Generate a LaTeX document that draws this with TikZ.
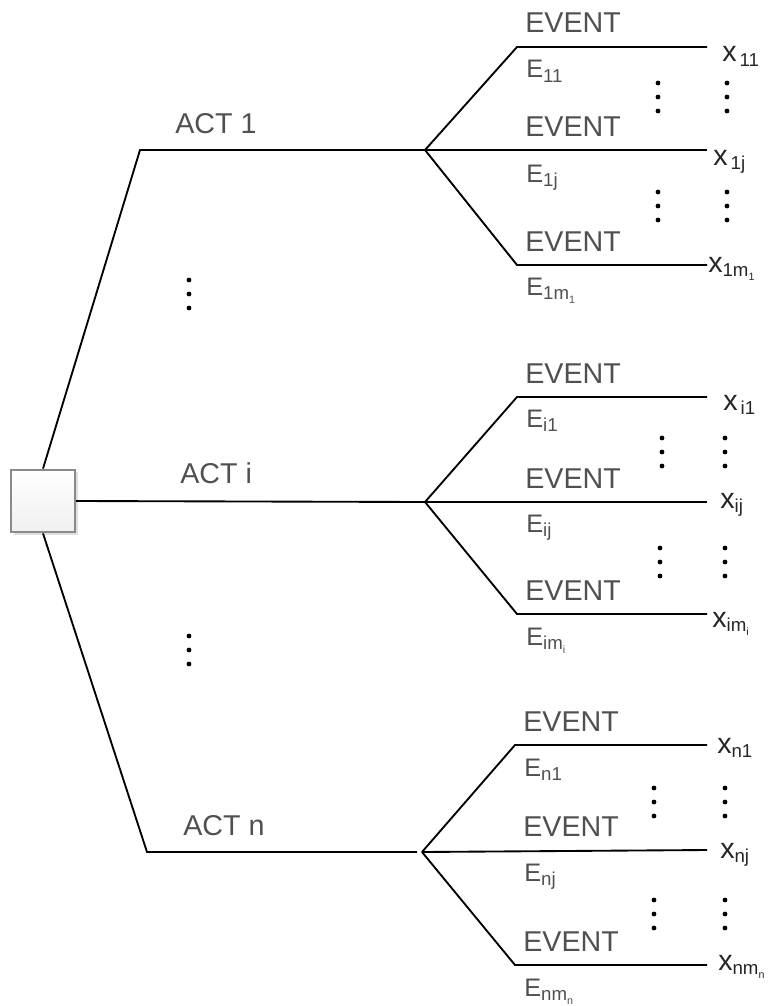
\documentclass[tikz,border=0pt]{standalone}
\usepackage{fontspec}
\setmainfont{Liberation Sans}
\usetikzlibrary{shadows}
\definecolor{labelgray}{HTML}{505050}
\definecolor{boxedge}{HTML}{8A8A8A}
% lowered indices for the outcome and event names
\newcommand{\lowsub}[1]{\raisebox{-3.5pt}{\fontsize{14}{14}\selectfont #1}}
\newcommand{\tinysub}[1]{\raisebox{-2.5pt}{\fontsize{8}{8}\selectfont #1}}

\begin{document}
\begin{tikzpicture}[x=0.75pt,y=-0.75pt,
	branch/.style={black,line width=1.4pt},
	actlabel/.style={anchor=base west,text=labelgray,font=\fontsize{21.5}{25}\selectfont},
	eventlabel/.style={anchor=base west,text=labelgray,font=\fontsize{21.5}{25}\selectfont},
	elabel/.style={anchor=base west,text=labelgray,font=\fontsize{19}{22}\selectfont},
	xlabel/.style={anchor=base west,text=black!85,font=\fontsize{21.5}{25}\selectfont}]
					\tikzstyle{every node}+=[inner sep=0pt]
					\useasboundingbox (0,0) rectangle (769,1006);
					% decision box
					\node [draw=boxedge,line width=1.5pt,minimum width=48pt,minimum height=47pt,
						top color=white,bottom color=gray!12,
						drop shadow={shadow xshift=2pt,shadow yshift=-2pt,opacity=0.25}] (root) at (43,501) {};
					% acts
					\coordinate (c1) at (140,150);
					\coordinate (f1) at (425,150);
					\coordinate (fi) at (425,502);
					\coordinate (cn) at (147,852);
					\coordinate (en) at (417,852);
					\coordinate (fn) at (422,852);
					\draw [branch] (root.north) -- (c1) -- (f1);
					\draw [branch] (root.east) -- (fi);
					\draw [branch] (root.south) -- (cn) -- (en);
					\node [actlabel] (act1) at (175,133) {ACT 1};
					\node [actlabel] (acti) at (180,483) {ACT i};
					\node [actlabel] (actn) at (183,835) {ACT n};
					% events of act 1
					\coordinate (u1) at (517,47);
					\coordinate (t1) at (707,47);
					\coordinate (m1) at (707,150);
					\coordinate (l1) at (517,265);
					\coordinate (b1) at (707,265);
					\draw [branch] (f1) -- (u1) -- (t1);
					\draw [branch] (f1) -- (m1);
					\draw [branch] (f1) -- (l1) -- (b1);
					\node [eventlabel] (ev11) at (525,33) {EVENT};
					\node [eventlabel] (ev1j) at (525,136) {EVENT};
					\node [eventlabel] (ev1m) at (525,251) {EVENT};
					\node [elabel] (e11) at (526,78) {E\lowsub{11}};
					\node [elabel] (e1j) at (526,182) {E\lowsub{1j}};
					\node [elabel] (e1m) at (526,295) {E\lowsub{1m\tinysub{1}}};
					\node [xlabel] (x11) at (722,62) {x\lowsub{\,11}};
					\node [xlabel] (x1j) at (713,165) {x\lowsub{\,1j}};
					\node [xlabel] (x1m) at (708,272) {x\lowsub{1m\tinysub{1}}};
					% events of act i
					\coordinate (ui) at (517,397);
					\coordinate (ti) at (707,397);
					\coordinate (mi) at (707,502);
					\coordinate (li) at (517,614);
					\coordinate (bi) at (707,614);
					\draw [branch] (fi) -- (ui) -- (ti);
					\draw [branch] (fi) -- (mi);
					\draw [branch] (fi) -- (li) -- (bi);
					\node [eventlabel] (evi1) at (525,383) {EVENT};
					\node [eventlabel] (evij) at (525,488) {EVENT};
					\node [eventlabel] (evim) at (525,600) {EVENT};
					\node [elabel] (ei1) at (526,427) {E\lowsub{i1}};
					\node [elabel] (eij) at (526,532) {E\lowsub{ij}};
					\node [elabel] (eim) at (526,645) {E\lowsub{im\tinysub{i}}};
					\node [xlabel] (xi1) at (723,410) {x\lowsub{\,i1}};
					\node [xlabel] (xij) at (720,508) {x\lowsub{ij}};
					\node [xlabel] (xim) at (712,627) {x\lowsub{im\tinysub{i}}};
					% events of act n
					\coordinate (un) at (515,745);
					\coordinate (tn) at (707,745);
					\coordinate (mn) at (707,850);
					\coordinate (ln) at (515,965);
					\coordinate (bn) at (707,965);
					\draw [branch] (fn) -- (un) -- (tn);
					\draw [branch] (fn) -- (mn);
					\draw [branch] (fn) -- (ln) -- (bn);
					\node [eventlabel] (evn1) at (523,731) {EVENT};
					\node [eventlabel] (evnj) at (523,836) {EVENT};
					\node [eventlabel] (evnm) at (523,951) {EVENT};
					\node [elabel] (en1) at (524,776) {E\lowsub{n1}};
					\node [elabel] (enj) at (524,881) {E\lowsub{nj}};
					\node [elabel] (enm) at (524,996) {E\lowsub{nm\tinysub{n}}};
					\node [xlabel] (xn1) at (717,753) {x\lowsub{n1}};
					\node [xlabel] (xnj) at (720,858) {x\lowsub{nj}};
					\node [xlabel] (xnm) at (718,970) {x\lowsub{nm\tinysub{n}}};
					% vertical ellipses
					\foreach \dx/\dy in {189/280,189/636,
						658/83,727/83,658/192,727/192,
						662/438,725/438,660/548,725/548,
						654/788,725/788,654/900,725/900}
						\foreach \k in {0,1,2}
							\fill [black] (\dx,\dy+14*\k) circle (2.4);
\end{tikzpicture}
\end{document}
